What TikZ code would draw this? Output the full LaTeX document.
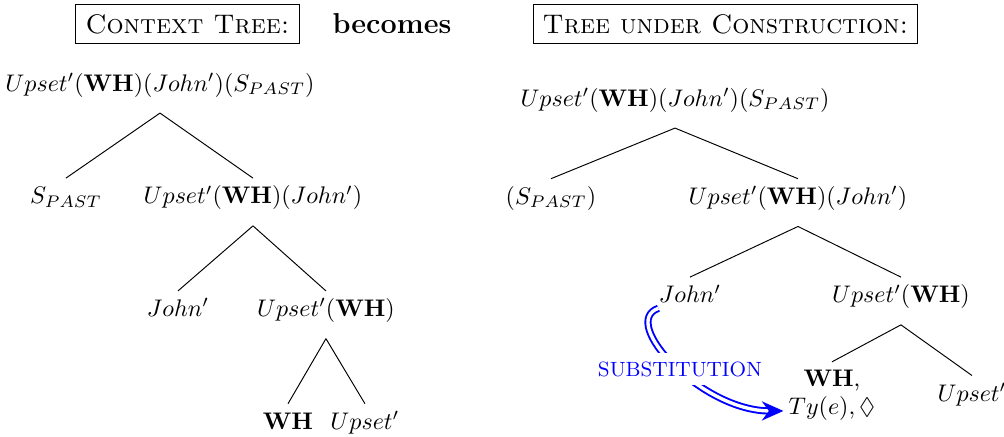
\documentclass[tikz,border=0pt]{standalone}
\usepackage{amsmath}
\usepackage{amssymb}
\usepackage{tikz}
\usetikzlibrary{positioning, arrows.meta}
\tikzstyle{hdr} = [rectangle, draw=black, font=\fontsize{11.2pt}{13pt}\selectfont\scshape, inner xsep=4pt, inner ysep=4pt]
\tikzstyle{tnode} = [inner xsep=0pt, inner ysep=3pt, text height=7.5pt, text depth=2.5pt]
\tikzstyle{subst} = [blue, double, double distance=1.4pt, line width=0.8pt, -{Stealth[length=9pt, width=8pt]}]
\tikzstyle{sublabel} = [fill=white, text=blue, font=\fontsize{8.6pt}{10pt}\selectfont, inner xsep=1pt, inner ysep=3.5pt]

\begin{document}
\begin{tikzpicture}[x=0.4167pt, y=0.4167pt]
        \useasboundingbox (0,0) rectangle (1004,-437);
        \node (ctx) [hdr] at (187.5,-24) {Context Tree:};
        \node (becomes) [font=\large\bfseries] at (392,-24) {becomes};
        \node (tuc) [hdr] at (725.5,-24) {Tree under Construction:};

        % context tree
        \begin{scope}[node distance=47pt]
        \node (lroot) [tnode] at (160,-85) {$Upset'(\mathbf{WH})(John')(S_{PAST})$};
        \node (lspast) [tnode, below of=lroot, xshift=-39.2pt] {$S_{PAST}$};
        \node (lupj) [tnode, below of=lroot, xshift=38.75pt] {$Upset'(\mathbf{WH})(John')$};
        \node (ljohn) [tnode, below of=lupj, xshift=-31.25pt] {$John'$};
        \node (lupwh) [tnode, below of=lupj, xshift=30.4pt] {$Upset'(\mathbf{WH})$};
        \node (lwh) [tnode, below of=lupwh, xshift=-15.8pt] {$\mathbf{WH}$};
        \node (lupset) [tnode, below of=lupwh, xshift=16.25pt] {$Upset'$};
        \end{scope}

        \draw ([yshift=-3.5pt]lroot.south) -- (lspast.north);
        \draw ([yshift=-3.5pt]lroot.south) -- (lupj.north);
        \draw ([yshift=-3.5pt]lupj.south) -- (ljohn.north);
        \draw ([yshift=-3.5pt]lupj.south) -- (lupwh.north);
        \draw ([yshift=-3.5pt]lupwh.south) -- (lwh.north);
        \draw ([yshift=-3.5pt]lupwh.south) -- (lupset.north);

        % tree under construction
        \begin{scope}[node distance=41pt]
        \node (rroot) [tnode] at (675,-100) {$Upset'(\mathbf{WH})(John')(S_{PAST})$};
        \node (rspast) [tnode, below of=rroot, xshift=-51.7pt] {$(S_{PAST})$};
        \node (rupj) [tnode, below of=rroot, xshift=51.25pt] {$Upset'(\mathbf{WH})(John')$};
        \node (rjohn) [tnode, below of=rupj, xshift=-45pt] {$John'$};
        \node (rupwh) [tnode, below of=rupj, xshift=42.9pt] {$Upset'(\mathbf{WH})$};
        \node (rwhty) [inner xsep=2pt, inner ysep=3pt, align=center, below of=rupwh, xshift=-28.75pt] {$\mathbf{WH}$,\\ $Ty(e), \Diamond$};
        \node (rupset) [tnode, below of=rupwh, xshift=29.6pt] {$Upset'$};
        \end{scope}

        \draw ([yshift=-3.5pt]rroot.south) -- (rspast.north);
        \draw ([yshift=-3.5pt]rroot.south) -- (rupj.north);
        \draw ([yshift=-3.5pt]rupj.south) -- (rjohn.north);
        \draw ([yshift=-3.5pt]rupj.south) -- (rupwh.north);
        \draw ([yshift=-3.5pt]rupwh.south) -- (rwhty.north);
        \draw ([yshift=-3.5pt]rupwh.south) -- (rupset.north);

        \draw [subst] (rjohn.200) .. controls +(-40,-14) and +(-82,0) .. node[sublabel, pos=0.53]{SUBSTITUTION} (rwhty.198);
\end{tikzpicture}
\end{document}
